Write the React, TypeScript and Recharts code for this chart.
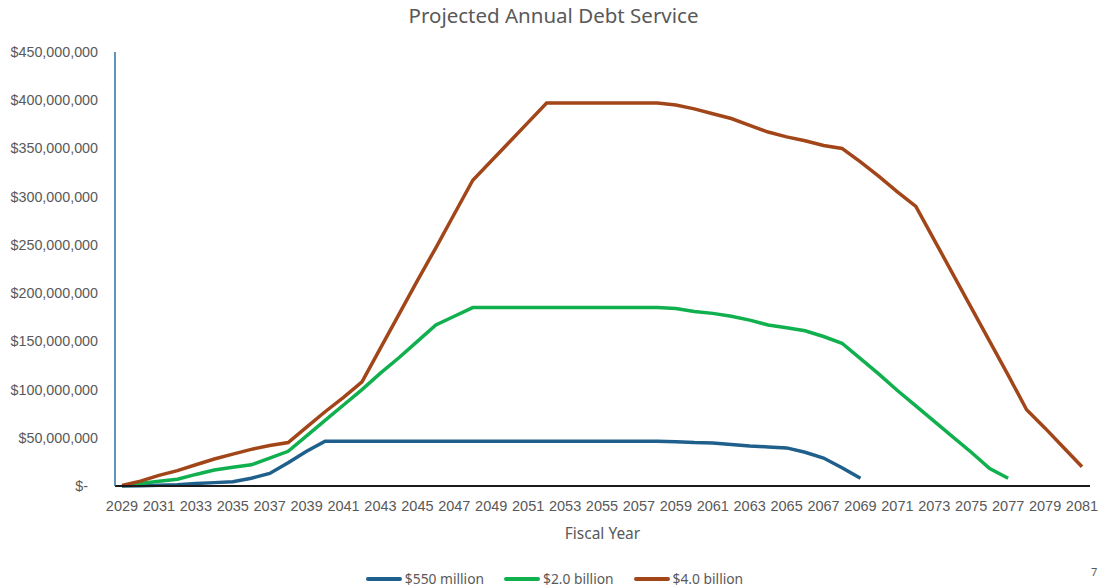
import { LineChart, Line, XAxis, YAxis, Legend } from 'recharts';

// fiscal years on the category axis
const years = [
  2029, 2030, 2031, 2032, 2033, 2034, 2035, 2036, 2037, 2038,
  2039, 2040, 2041, 2042, 2043, 2044, 2045, 2046, 2047, 2048,
  2049, 2050, 2051, 2052, 2053, 2054, 2055, 2056, 2057, 2058,
  2059, 2060, 2061, 2062, 2063, 2064, 2065, 2066, 2067, 2068,
  2069, 2070, 2071, 2072, 2073, 2074, 2075, 2076, 2077, 2078,
  2079, 2080, 2081,
];

// annual debt service, in millions of dollars
const debt550m = [
  0, 0.3, 0.7, 1.2, 2.5, 3.5, 4.5, 8, 13, 24,
  36, 46.5, 46.5, 46.5, 46.5, 46.5, 46.5, 46.5, 46.5, 46.5,
  46.5, 46.5, 46.5, 46.5, 46.5, 46.5, 46.5, 46.5, 46.5, 46.5,
  46, 45, 44.5, 43, 41.5, 40.5, 39.5, 35, 29, 19,
  8,
];

const debt2b = [
  0.3, 2.5, 5, 7, 12, 16.5, 19.5, 22, 29, 36,
  52, 68, 84, 100, 117, 133, 150, 167, 176, 185,
  185, 185, 185, 185, 185, 185, 185, 185, 185, 185,
  184, 181, 179, 176, 172, 167, 164, 161, 155, 148,
  132, 116, 99, 83, 67, 51, 35, 18, 8,
];

const debt4b = [
  0.5, 5, 11, 16, 22, 28, 33, 38, 42, 45,
  61, 77, 92, 108, 143, 178, 213, 247, 282, 317,
  337, 357, 377, 397, 397, 397, 397, 397, 397, 397,
  395, 391, 386, 381, 374, 367, 362, 358, 353, 350,
  336, 321, 305, 290, 255, 220, 185, 150, 115, 79,
  60, 40, 20,
];

const yTicks = [0, 50, 100, 150, 200, 250, 300, 350, 400, 450];

const series = [
  { key: 'm550', name: '$550 million', color: '#1f5f8b', values: debt550m },
  { key: 'b2', name: '$2.0 billion', color: '#10b04f', values: debt2b },
  { key: 'b4', name: '$4.0 billion', color: '#a2461a', values: debt4b },
];

const data = years.map((year, i) => {
  const row: Record<string, string | number | null> = { year: String(year) };
  series.forEach((s) => {
    row[s.key] = i < s.values.length ? s.values[i] : null;
  });
  return row;
});

const grey = '#595959';
const tickFont = '"Liberation Sans", Arial, sans-serif';
const textFont = '"Noto Sans", "Open Sans", sans-serif';

function YTick({ x, y, payload }: any) {
  const v = payload.value as number;
  const label = v === 0 ? '$-' : '$' + (v * 1000000).toLocaleString('en-US');
  return (
    <text
      x={v === 0 ? x - 10 : x}
      y={y}
      dy={5}
      textAnchor="end"
      fill={grey}
      fontSize={14.3}
      fontFamily={tickFont}
    >
      {label}
    </text>
  );
}

function LegendRow() {
  return (
    <div
      style={{
        display: 'flex',
        justifyContent: 'center',
        gap: 20,
        fontFamily: textFont,
        fontSize: 13.8,
        color: grey,
        paddingLeft: 10,
      }}
    >
      {series.map((s) => (
        <div key={s.key} style={{ display: 'flex', alignItems: 'center' }}>
          <span
            style={{
              display: 'inline-block',
              width: 36,
              height: 4,
              background: s.color,
              borderRadius: 2,
              marginRight: 3,
            }}
          />
          {s.name}
        </div>
      ))}
    </div>
  );
}

export default function App() {
  return (
    <div
      style={{
        position: 'absolute',
        left: 0,
        top: 0,
        width: 1099,
        height: 588,
        background: '#fff',
      }}
    >
      <div
        style={{
          position: 'absolute',
          top: 1,
          left: 4,
          width: 1099,
          textAlign: 'center',
          fontFamily: textFont,
          fontSize: 20.5,
          color: grey,
        }}
      >
        Projected Annual Debt Service
      </div>
      <LineChart
        width={1099}
        height={588}
        data={data}
        margin={{ top: 52, right: 9, bottom: 42, left: 0 }}
      >
        <XAxis
          dataKey="year"
          interval={1}
          padding={{ left: 7, right: 8 }}
          tickLine={false}
          tickSize={0}
          tickMargin={15}
          stroke="#1a1a1a"
          strokeWidth={2}
          tick={{ fill: grey, fontSize: 14.5, fontFamily: tickFont }}
          height={60}
          label={{
            value: 'Fiscal Year',
            position: 'insideBottom',
            offset: 7,
            fill: grey,
            fontSize: 15.5,
            fontFamily: textFont,
          }}
        />
        <YAxis
          width={115}
          domain={[0, 450]}
          ticks={yTicks}
          tickLine={false}
          tickSize={0}
          tickMargin={17}
          stroke="#2e6fa3"
          strokeWidth={1.5}
          tick={<YTick />}
        />
        <Legend
          layout="horizontal"
          verticalAlign="middle"
          align="center"
          wrapperStyle={{ top: 569, left: 0, width: 1099 }}
          content={() => <LegendRow />}
        />
        {series.map((s) => (
          <Line
            key={s.key}
            type="linear"
            dataKey={s.key}
            name={s.name}
            stroke={s.color}
            strokeWidth={3.5}
            dot={false}
            activeDot={false}
            isAnimationActive={false}
          />
        ))}
      </LineChart>
      <div
        style={{
          position: 'absolute',
          left: 1091,
          top: 564,
          fontFamily: textFont,
          fontSize: 11,
          color: grey,
        }}
      >
        7
      </div>
    </div>
  );
}
